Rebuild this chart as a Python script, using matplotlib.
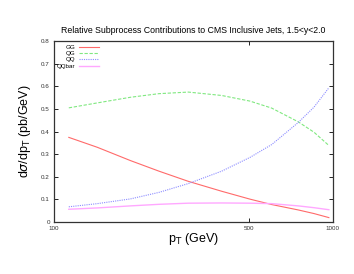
import numpy as np
import matplotlib
matplotlib.use("Agg")
import matplotlib.pyplot as plt

# values
pt = [113, 143, 188, 238, 303, 399, 504, 603, 751, 855, 967]
gg = [0.374, 0.330, 0.271, 0.224, 0.179, 0.135, 0.100, 0.076, 0.052, 0.036, 0.018]
qg = [0.505, 0.527, 0.552, 0.568, 0.575, 0.560, 0.535, 0.504, 0.443, 0.397, 0.338]
qq = [0.066, 0.080, 0.101, 0.130, 0.169, 0.224, 0.285, 0.342, 0.440, 0.508, 0.594]
qqbar = [0.055, 0.061, 0.070, 0.077, 0.082, 0.083, 0.082, 0.080, 0.070, 0.062, 0.053]

labels = ["GG", "QG", "QQ", "QQbar"]
xticks = [100, 500, 1000]
yticks = [0, 0.1, 0.2, 0.3, 0.4, 0.5, 0.6, 0.7, 0.8]

plt.rcParams['font.family'] = ['Liberation Sans', 'DejaVu Sans']

fig = plt.figure(figsize=(3.54, 2.74), dpi=100)
ax = fig.add_axes([0.1525, 0.191, 0.788, 0.658])

ax.plot(pt, gg, color='#ff6a6a', lw=0.8, ls='-', label=labels[0])
ax.plot(pt, qg, color='#80e880', lw=0.8, ls=(0, (3, 1.5)), label=labels[1])
ax.plot(pt, qq, color='#8c8cff', lw=0.8, ls=(0, (1, 1)), label=labels[2])
ax.plot(pt, qqbar, color='#ffa8ff', lw=1.0, ls='-', label=labels[3])

ax.set_xscale('log')
ax.set_xlim(100, 1000)
ax.set_ylim(0, 0.8)
ax.set_xticks(xticks)
ax.set_xticklabels([str(t) for t in xticks])
ax.xaxis.set_minor_locator(matplotlib.ticker.NullLocator())
ax.set_yticks(yticks)
ax.set_yticklabels(['0'] + ['%.1f' % t for t in yticks[1:]])
ax.tick_params(direction='in', top=True, right=True, length=3, width=0.6,
               labelsize=4.5, pad=3, labelcolor='#333333')
for s in ax.spines.values():
    s.set_linewidth(0.9)
    s.set_color('#333333')

ax.set_title('Relative Subprocess Contributions to CMS Inclusive Jets, 1.5<y<2.0',
             fontsize=6.3, pad=6)
ax.set_xlabel(r'p$_\mathrm{T}$ (GeV)', fontsize=9, labelpad=0)
ax.set_ylabel(r'd$\sigma$/dp$_\mathrm{T}$ (pb/GeV)', fontsize=9, labelpad=6)

ax.legend(loc='upper left', markerfirst=False, frameon=False, fontsize=4.5,
          handlelength=3.2, labelspacing=0.15, handletextpad=0.6,
          borderaxespad=0.3, borderpad=0.2)

fig.savefig('out.png', dpi=100)
